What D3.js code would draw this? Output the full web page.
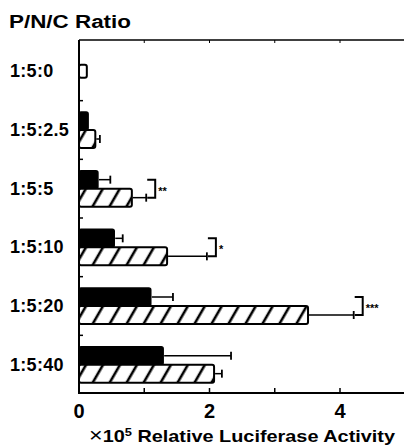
<!DOCTYPE html>
<html>
<head>
<meta charset="utf-8">
<script src="https://cdn.jsdelivr.net/npm/d3@7"></script>
<style>
  body { margin: 0; background: #fff; }
  svg { display: block; font-family: "Liberation Sans", Arial, sans-serif; font-weight: bold; }
</style>
</head>
<body>
<div id="chart"></div>
<script>
const ratios = ["1:5:0", "1:5:2.5", "1:5:5", "1:5:10", "1:5:20", "1:5:40"];
const solidVals = [null, 0.14, 0.29, 0.54, 1.10, 1.29];
const solidErr = [null, 0, 0.19, 0.13, 0.34, 1.04];
const hatchVals = [0.12, 0.25, 0.81, 1.35, 3.51, 2.07];
const hatchErr = [0, 0.07, 0.22, 0.61, 0.70, 0.12];
const sigLabels = ["", "", "**", "*", "***", ""];
const xTicks = [0, 1, 2, 3, 4];
const xTickLabels = ["0", "", "2", "", "4"];

const W = 404, H = 445;
const svg = d3.select("#chart").append("svg")
  .attr("width", W).attr("height", H);

// hatch pattern
svg.append("defs").append("pattern")
  .attr("id", "hatch")
  .attr("patternUnits", "userSpaceOnUse")
  .attr("width", 14.7).attr("height", 14.7)
  .attr("patternTransform", "rotate(30)")
  .call(p => {
    p.append("rect").attr("width", 14.7).attr("height", 14.7).attr("fill", "#fff");
    p.append("line").attr("x1", 7).attr("x2", 7).attr("y1", 0).attr("y2", 14.7)
      .attr("stroke", "#000").attr("stroke-width", 2.6);
  });

const x = d3.scaleLinear().domain([0, 5]).range([79, 405.25]);
const y = d3.scaleBand().domain(ratios).range([42, 394]);
const barH = 18;

// frame: top line, left axis, bottom axis
svg.append("line").attr("x1", 79).attr("x2", W).attr("y1", 40).attr("y2", 40)
  .attr("stroke", "#000").attr("stroke-width", 1.5);
svg.append("line").attr("x1", 79).attr("x2", 79).attr("y1", 40).attr("y2", 394)
  .attr("stroke", "#000").attr("stroke-width", 2);
svg.append("line").attr("x1", 78).attr("x2", W).attr("y1", 393).attr("y2", 393)
  .attr("stroke", "#000").attr("stroke-width", 2);

// ticks
svg.selectAll(".xtick").data(xTicks).enter().append("line")
  .attr("x1", d => x(d)).attr("x2", d => x(d))
  .attr("y1", 393).attr("y2", 388)
  .attr("stroke", "#000").attr("stroke-width", 1.5);
svg.selectAll(".xtop").data(xTicks).enter().append("line")
  .attr("x1", d => x(d)).attr("x2", d => x(d))
  .attr("y1", 40).attr("y2", 43)
  .attr("stroke", "#000").attr("stroke-width", 1);
svg.selectAll(".ytick").data(ratios.slice(1)).enter().append("line")
  .attr("x1", 79).attr("x2", 83)
  .attr("y1", d => y(d)).attr("y2", d => y(d))
  .attr("stroke", "#000").attr("stroke-width", 1.5);

svg.selectAll(".xlab").data(xTicks).enter().append("text")
  .attr("x", d => x(d)).attr("y", 418)
  .attr("text-anchor", "middle")
  .style("font-size", "20px")
  .text((d, i) => xTickLabels[i]);

// labels
svg.append("text").attr("x", 9).attr("y", 28)
  .attr("textLength", 122).attr("lengthAdjust", "spacingAndGlyphs")
  .style("font-size", "18px").text("P/N/C Ratio");

svg.selectAll(".ylab").data(ratios).enter().append("text")
  .attr("x", 10).attr("y", d => y(d) + y.bandwidth() / 2 + 6)
  .style("font-size", "18px").style("letter-spacing", "0.3px")
  .text(d => d);

const xt = svg.append("text").attr("x", 89).attr("y", 442)
  .attr("textLength", 306).attr("lengthAdjust", "spacingAndGlyphs")
  .style("font-size", "17px");
xt.append("tspan").style("font-size", "20px").style("font-weight", "normal").text("\u00d7");
xt.append("tspan").text("10");
xt.append("tspan").attr("dy", -6).style("font-size", "11px").text("5");
xt.append("tspan").attr("dy", 6).text(" Relative Luciferase Activity");

// bars
ratios.forEach((r, i) => {
  const c = y(r) + y.bandwidth() / 2;
  const g = svg.append("g");
  if (solidVals[i] === null) {
    g.append("rect").attr("x", x(0)).attr("y", c - 6.5)
      .attr("width", x(hatchVals[i]) - x(0)).attr("height", 13)
      .attr("rx", 2).attr("fill", "#fff").attr("stroke", "#000").attr("stroke-width", 2);
    return;
  }
  const sy = c - barH, hy = c;
  g.append("rect").attr("x", x(0)).attr("y", sy)
    .attr("width", x(solidVals[i]) - x(0)).attr("height", barH)
    .attr("rx", 2).attr("fill", "#000").attr("stroke", "#000").attr("stroke-width", 1.5);
  g.append("rect").attr("x", x(0)).attr("y", hy)
    .attr("width", x(hatchVals[i]) - x(0)).attr("height", barH)
    .attr("rx", 2).attr("fill", "url(#hatch)").attr("stroke", "#000").attr("stroke-width", 2);

  const errs = [
    { v: solidVals[i], e: solidErr[i], cy: sy + barH / 2 },
    { v: hatchVals[i], e: hatchErr[i], cy: hy + barH / 2 }
  ];
  errs.forEach(d => {
    if (!d.e) return;
    const x1 = x(d.v + d.e);
    g.append("line").attr("x1", x(d.v) + 1).attr("x2", x1)
      .attr("y1", d.cy).attr("y2", d.cy).attr("stroke", "#000").attr("stroke-width", 1.5);
    g.append("line").attr("x1", x1).attr("x2", x1)
      .attr("y1", d.cy - 4).attr("y2", d.cy + 4).attr("stroke", "#000").attr("stroke-width", 1.8);
  });

  if (sigLabels[i]) {
    const bx = x(Math.max(solidVals[i] + solidErr[i], hatchVals[i] + hatchErr[i])) + 1;
    const y1 = errs[0].cy, y2 = errs[1].cy;
    g.append("path")
      .attr("d", `M${bx},${y1}H${bx + 8}V${y2}H${bx}`)
      .attr("fill", "none").attr("stroke", "#000").attr("stroke-width", 2);
    g.append("text").attr("x", bx + 11).attr("y", (y1 + y2) / 2 + 6)
      .style("font-size", "11px").text(sigLabels[i]);
  }
});
</script>
</body>
</html>
